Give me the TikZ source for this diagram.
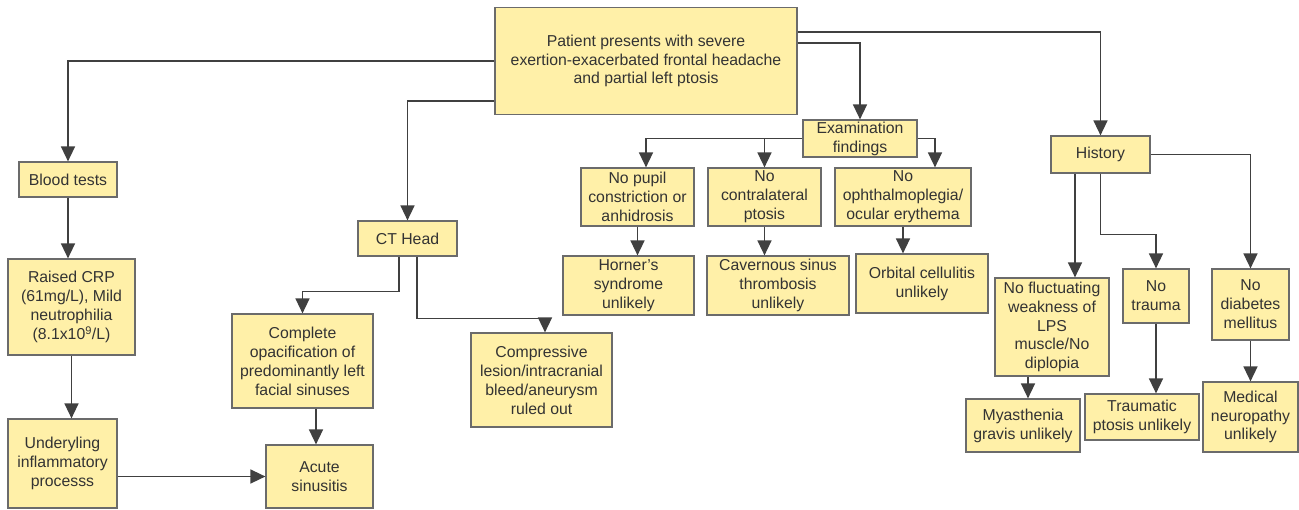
\documentclass[tikz,border=0pt]{standalone}
\usepackage{fontspec}
\setmainfont{Liberation Sans}
\usetikzlibrary{arrows.meta, positioning}
\definecolor{boxyellow}{rgb}{1.0, 0.94, 0.66}
\definecolor{boxedge}{rgb}{0.42, 0.42, 0.42}
\definecolor{lineedge}{rgb}{0.25, 0.25, 0.25}
\definecolor{textgrey}{rgb}{0.2, 0.2, 0.2}

\tikzset{
  box/.style={draw=boxedge, line width=1.2pt, fill=boxyellow, align=center,
    inner sep=0pt, text=textgrey, font=\fontsize{15.8}{18.9}\selectfont},
  arr/.style={draw=lineedge, line width=1.5pt, -{Triangle[width=14pt,length=15pt]}}
}

\begin{document}
\begin{tikzpicture}[x=1pt, y=-1pt]

    \useasboundingbox (0,0) rectangle (1299,509);

    % top
    \node[box, minimum width=302pt, minimum height=107pt] (main) at (646, 61)
      {Patient presents with severe\\exertion-exacerbated frontal headache\\and partial left ptosis};

    % blood branch
    \node[box, minimum width=98pt, minimum height=35pt] (blood) at (68, 179.5) {Blood tests};
    \node[box, minimum width=127pt, minimum height=96pt] (crp) at (71.5, 307)
      {Raised CRP\\(61mg/L), Mild\\neutrophilia\\(8.1x10\textsuperscript{9}/L)};
    \node[box, minimum width=109pt, minimum height=89pt] (under) at (62.5, 463.5)
      {Underyling\\inflammatory\\processs};

    % CT branch
    \node[box, minimum width=99pt, minimum height=35pt] (ct) at (407.5, 238.5) {CT Head};
    \node[box, minimum width=141pt, minimum height=94pt] (opac) at (302.5, 361)
      {Complete\\opacification of\\predominantly left\\facial sinuses};
    \node[box, minimum width=107pt, minimum height=63pt] (acute) at (319.5, 476.5) {Acute\\sinusitis};
    \node[box, minimum width=141pt, minimum height=94pt] (lesion) at (541.5, 380)
      {Compressive\\lesion/intracranial\\bleed/aneurysm\\ruled out};

    % examination branch
    \node[box, minimum width=114pt, minimum height=37pt] (exam) at (860, 138.5) {Examination\\findings};
    \node[box, minimum width=113pt, minimum height=58pt] (pupil) at (637.5, 197)
      {No pupil\\constriction or\\anhidrosis};
    \node[box, minimum width=113pt, minimum height=58pt] (contra) at (764.5, 197)
      {No\\contralateral\\ptosis};
    \node[box, minimum width=136pt, minimum height=58pt] (ophth) at (903, 197)
      {No\\ophthalmoplegia/\\ocular erythema};
    \node[box, minimum width=131pt, minimum height=59pt] (horner) at (628.5, 285.5)
      {Horner{\char"27}s\\syndrome\\unlikely};
    \node[box, minimum width=142pt, minimum height=59pt] (cavern) at (778, 285.5)
      {Cavernous sinus\\thrombosis\\unlikely};
    \node[box, minimum width=132pt, minimum height=59pt] (orbit) at (922, 283.5)
      {Orbital cellulitis\\unlikely};

    % history branch
    \node[box, minimum width=99pt, minimum height=37pt] (hist) at (1100.5, 154.5) {History};
    \node[box, minimum width=114pt, minimum height=98pt] (fluct) at (1052, 327)
      {No fluctuating\\weakness of\\LPS\\muscle/No\\diplopia};
    \node[box, minimum width=114pt, minimum height=53pt] (myas) at (1023, 425.5)
      {Myasthenia\\gravis unlikely};
    \node[box, minimum width=66pt, minimum height=54pt] (trauma) at (1156, 296) {No\\trauma};
    \node[box, minimum width=114pt, minimum height=46pt] (tptosis) at (1142, 417)
      {Traumatic\\ptosis unlikely};
    \node[box, minimum width=77pt, minimum height=71pt] (diab) at (1250.5, 304.5)
      {No\\diabetes\\mellitus};
    \node[box, minimum width=95pt, minimum height=70pt] (neuro) at (1250.5, 417)
      {Medical\\neuropathy\\unlikely};

    % connectors
    \draw[arr] (main.west) -| (blood.north);
    \draw[arr] ([yshift=-40pt]main.west) -| (ct.north);
    \draw[arr] ([yshift=18pt]main.east) -| (exam.north);
    \draw[arr] ([yshift=29pt]main.east) -| (hist.north);

    \draw[arr] (blood.south) -- (blood.south |- crp.north);
    \draw[arr] (crp.south) -- (crp.south |- under.north);
    \draw[arr] (under.east |- acute.west) -- (acute.west);

    \draw[arr] ([xshift=-8.5pt]ct.south) -- ++(0,35) -| (opac.north);
    \draw[arr] ([xshift=9.5pt]ct.south) -- ++(0,62) -| ([xshift=3.5pt]lesion.north);
    \draw[arr] ([xshift=-3.5pt]acute.north |- opac.south) -- ([xshift=-3.5pt]acute.north);

    \draw[arr] (exam.west) -| ([xshift=8.5pt]pupil.north);
    \draw[arr] (contra.north |- exam.west) -- (contra.north);
    \draw[arr] (exam.east) -| ([xshift=32pt]ophth.north);
    \draw[arr] (pupil.south) -- (pupil.south |- horner.north);
    \draw[arr] (contra.south) -- (contra.south |- cavern.north);
    \draw[arr] (ophth.south) -- (ophth.south |- orbit.north);

    \draw[arr] ([xshift=-25.5pt]hist.south) -- ([xshift=-25.5pt]hist.south |- fluct.north);
    \draw[arr] (hist.south) -- ++(0,61) -| (trauma.north);
    \draw[arr] (hist.east) -| (diab.north);
    \draw[arr] ([xshift=-24pt]fluct.south) -- ([xshift=-24pt]fluct.south |- myas.north);
    \draw[arr] (trauma.south) -- (trauma.south |- tptosis.north);
    \draw[arr] (diab.south) -- (diab.south |- neuro.north);

\end{tikzpicture}
\end{document}
